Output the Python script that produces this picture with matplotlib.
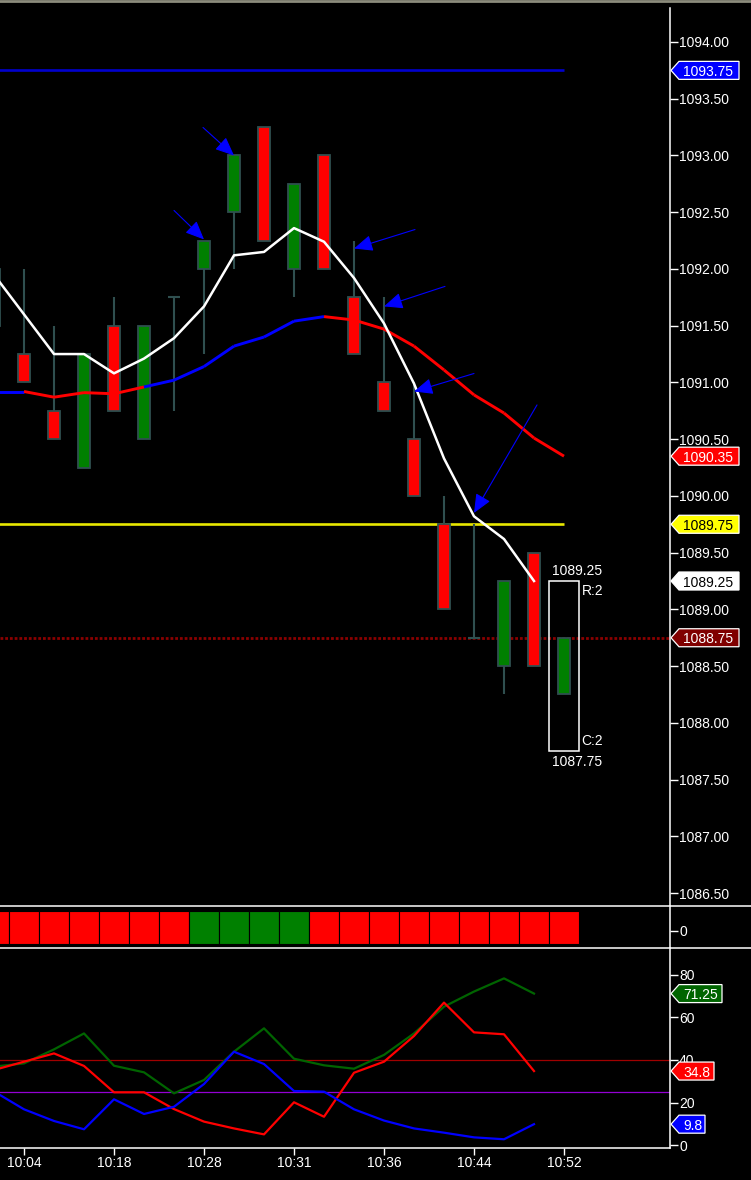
import numpy as np
import matplotlib.pyplot as plt
from matplotlib.patches import Rectangle, Polygon
from matplotlib.lines import Line2D
from matplotlib.collections import LineCollection

plt.rcParams['font.family'] = ['Liberation Sans', 'DejaVu Sans']

# bar index -1 is the partly hidden bar at the left edge
bar_idx = list(range(-1, 19))
opens = [1092.00, 1091.25, 1090.75, 1090.25, 1091.50, 1090.50, 1091.75, 1092.00, 1092.50, 1093.25,
         1092.00, 1093.00, 1091.75, 1091.00, 1090.50, 1089.75, 1088.75, 1088.50, 1089.50, 1088.25]
highs = [1092.00, 1092.00, 1091.50, 1091.25, 1091.75, 1091.50, 1091.75, 1092.25, 1093.00, 1093.25,
         1092.75, 1093.00, 1092.25, 1091.75, 1091.00, 1090.00, 1089.75, 1089.25, 1089.50, 1088.75]
lows = [1091.50, 1091.00, 1090.50, 1090.25, 1090.75, 1090.50, 1090.75, 1091.25, 1092.00, 1092.25,
        1091.75, 1092.00, 1091.25, 1090.75, 1090.00, 1089.00, 1088.75, 1088.25, 1088.50, 1088.25]
closes = [1091.50, 1091.00, 1090.50, 1091.25, 1090.75, 1091.50, 1091.75, 1092.25, 1093.00, 1092.25,
          1092.75, 1092.00, 1091.25, 1090.75, 1090.00, 1089.00, 1088.75, 1089.25, 1088.50, 1088.75]

# fast average (white), bars -1..17
fast_ma = [1091.95, 1091.60, 1091.25, 1091.25, 1091.08, 1091.21, 1091.39, 1091.67, 1092.12, 1092.15,
           1092.36, 1092.24, 1091.92, 1091.52, 1090.99, 1090.33, 1089.82, 1089.62, 1089.25]
# slow average, bars -1..18, colour per segment (b = rising, r = falling)
slow_ma = [1090.92, 1090.92, 1090.87, 1090.91, 1090.90, 1090.96, 1091.02, 1091.14, 1091.32, 1091.40,
           1091.54, 1091.58, 1091.55, 1091.47, 1091.32, 1091.11, 1090.89, 1090.73, 1090.51, 1090.35]
slow_dir = ['b', 'r', 'r', 'r', 'r', 'b', 'b', 'b', 'b', 'b', 'b', 'r', 'r', 'r', 'r', 'r', 'r', 'r', 'r']

blue_level = 1093.75
yellow_level = 1089.75
last_price = 1088.75

# range box on the current bar
box_bar = 18
box_high = 1089.25
box_low = 1087.75

# signal arrows: bar, price at the tip
arrow_bars = [6, 7, 11, 12, 13, 15]
arrow_prices = [1092.26, 1093.00, 1092.18, 1091.67, 1090.92, 1089.85]
arrow_tails = [(-30, 29), (-31, 28), (61, 19), (61, 20), (60, 18), (63, 108)]

# middle strip: 1 = green, -1 = red
strip = [-1, -1, -1, -1, -1, -1, -1, 1, 1, 1, 1, -1, -1, -1, -1, -1, -1, -1, -1, -1]

# lower indicator, bars -1..17
ind_bars = list(range(-1, 18))
ind_green = [36.9, 38.4, 45.0, 52.5, 37.3, 34.2, 24.3, 30.6, 43.9, 54.9,
             40.6, 37.5, 35.9, 42.4, 52.5, 65.1, 72.2, 78.4, 71.25]
ind_red = [35.3, 39.2, 43.1, 37.2, 24.8, 24.8, 16.9, 11.0, 7.8, 5.0,
           20.1, 13.3, 34.0, 39.2, 51.3, 67.0, 53.0, 52.1, 34.8]
ind_blue = [25.2, 16.8, 11.3, 7.4, 21.5, 14.6, 18.0, 28.7, 43.9, 38.1,
            25.4, 25.1, 16.8, 11.5, 7.8, 5.8, 3.6, 2.7, 9.8]
ind_upper = 40
ind_lower = 25

time_ticks = [0, 3, 6, 9, 12, 15, 18]
time_labels = ['10:04', '10:18', '10:28', '10:31', '10:36', '10:44', '10:52']

W, H = 751, 1180
fig = plt.figure(figsize=(W / 100, H / 100), dpi=100, facecolor='black')


def rect(x0, y0, x1, y1):
    return [x0 / W, 1 - y1 / H, (x1 - x0) / W, (y1 - y0) / H]


ax = fig.add_axes(rect(0, 8, 670, 906))
mid = fig.add_axes(rect(0, 906, 670, 948))
low = fig.add_axes(rect(0, 948, 670, 1148))

xlim = (-0.8, 21.533)
for a in (ax, mid, low):
    a.set_facecolor('black')
    a.set_xlim(*xlim)
    for s in ('left', 'top', 'bottom'):
        a.spines[s].set_visible(False)
    a.spines['right'].set_color('white')
    a.spines['right'].set_linewidth(1.1)
    a.yaxis.tick_right()
    a.tick_params(axis='y', colors='white', direction='out', length=5.5, width=1,
                  labelsize=10, pad=1)
    a.tick_params(axis='x', bottom=False, labelbottom=False)

# ---- main price panel ----
ax.set_ylim(1086.386, 1094.2996)
ax.set_yticks(np.arange(1086.5, 1094.01, 0.5))
ax.set_yticklabels(['%.2f' % v for v in np.arange(1086.5, 1094.01, 0.5)])

ax.hlines(blue_level, -1, 18, color='#0000CD', lw=1.9, zorder=2)
ax.hlines(yellow_level, -1, 18, color='#E8E800', lw=1.9, zorder=2)
ax.axhline(last_price, color='#8B0000', lw=2, ls=(0, (1, 0.7)), zorder=2)

wick = '#2F4F4F'
bw = 0.37
for k, o, h, l, c in zip(bar_idx, opens, highs, lows, closes):
    ax.vlines(k, l, h, color=wick, lw=1.5, zorder=3)
    if o == c:
        ax.hlines(o, k - 0.2, k + 0.2, color=wick, lw=1.5, zorder=3)
    else:
        fc = '#008000' if c > o else '#FF0000'
        ax.add_patch(Rectangle((k - bw / 2, min(o, c)), bw, abs(c - o), facecolor=fc,
                               edgecolor=wick, lw=1.3, zorder=4))

pts = np.column_stack([bar_idx, slow_ma])
segs = [pts[i:i + 2] for i in range(len(pts) - 1)]
cols = ['#0000FF' if d == 'b' else '#FF0000' for d in slow_dir]
ax.add_collection(LineCollection(segs, colors=cols, linewidths=2.1, zorder=5))
ax.plot(bar_idx[:-1], fast_ma, color='white', lw=1.8, zorder=6)

for k, p, (dx, dy) in zip(arrow_bars, arrow_prices, arrow_tails):
    ax.annotate('', xy=(k, p), xytext=(dx, dy), textcoords='offset pixels',
                arrowprops=dict(arrowstyle='-|>,head_length=1.15,head_width=0.5',
                                color='#0000FF', lw=0.8, shrinkA=0, shrinkB=0), zorder=7)

ax.add_patch(Rectangle((box_bar - 0.5, box_low), 1.0, box_high - box_low, fill=False,
                       edgecolor='white', lw=1.1, zorder=7))
ax.text(box_bar + 0.43, box_high + 0.03, '%.2f' % box_high, color='white', fontsize=10,
        ha='center', va='bottom', zorder=8)
ax.text(box_bar + 0.58, box_high - 0.03, 'R:2', color='white', fontsize=10,
        ha='left', va='top', zorder=8)
ax.text(box_bar + 0.58, box_low + 0.03, 'C:2', color='white', fontsize=10,
        ha='left', va='bottom', zorder=8)
ax.text(box_bar + 0.43, box_low - 0.03, '%.2f' % box_low, color='white', fontsize=10,
        ha='center', va='top', zorder=8)

# ---- middle strip ----
mid.set_ylim(-0.405, 0.595)
mid.set_yticks([0])
mid.set_yticklabels(['0'])
for k, s in zip(bar_idx, strip):
    mid.add_patch(Rectangle((k - 0.5, -0.303), 1.0, 0.779,
                            facecolor='#008000' if s > 0 else '#FF0000',
                            edgecolor='black', lw=0.8))

# ---- lower indicator ----
low.set_ylim(-1.41, 92.7)
low.set_yticks([0, 20, 40, 60, 80])
low.spines['bottom'].set_visible(True)
low.spines['bottom'].set_color('white')
low.spines['bottom'].set_linewidth(1.1)
low.axhline(ind_upper, color='#A00000', lw=0.9)
low.axhline(ind_lower, color='#9400D3', lw=0.9)
low.plot(ind_bars, ind_green, color='#006400', lw=1.6)
low.plot(ind_bars, ind_red, color='#FF0000', lw=1.6)
low.plot(ind_bars, ind_blue, color='#0000FF', lw=1.6)
low.set_xticks(time_ticks)
low.set_xticklabels(time_labels)
low.tick_params(axis='x', bottom=True, labelbottom=True, colors='white', direction='out',
                length=5, width=1, labelsize=10, pad=1)

# separators and top border
for yy in (906, 948):
    fig.add_artist(Line2D([0, 1], [1 - yy / H] * 2, color='white', lw=1.1,
                          transform=fig.transFigure))
fig.add_artist(Line2D([0, 1], [1 - 1 / H] * 2, color='#8C8C7C', lw=2,
                      transform=fig.transFigure))


def tag(axis, value, text, fill, tcolor, width):
    y = axis.transData.transform((0, value))[1]
    x0 = 671
    poly = [(x0, y), (x0 + 8, y + 9), (x0 + width, y + 9), (x0 + width, y - 9), (x0 + 8, y - 9)]
    poly = [(px / W, py / H) for px, py in poly]
    fig.add_artist(Polygon(poly, closed=True, transform=fig.transFigure, facecolor=fill,
                           edgecolor='white', lw=0.9, zorder=10))
    fig.text(683 / W, y / H, text, color=tcolor, fontsize=10, ha='left',
             va='center_baseline', zorder=11)


tag(ax, blue_level, '%.2f' % blue_level, '#0000FF', 'white', 68)
tag(ax, slow_ma[-1], '%.2f' % slow_ma[-1], '#FF0000', 'white', 68)
tag(ax, yellow_level, '%.2f' % yellow_level, '#FFFF00', 'black', 68)
tag(ax, fast_ma[-1], '%.2f' % fast_ma[-1], '#FFFFFF', 'black', 68)
tag(ax, last_price, '%.2f' % last_price, '#800000', 'white', 68)
tag(low, ind_green[-1], '%g' % ind_green[-1], '#006400', 'white', 51)
tag(low, ind_red[-1], '%g' % ind_red[-1], '#FF0000', 'white', 43)
tag(low, ind_blue[-1], '%g' % ind_blue[-1], '#0000FF', 'white', 34)

fig.savefig('out.png', dpi=100, facecolor='black')
